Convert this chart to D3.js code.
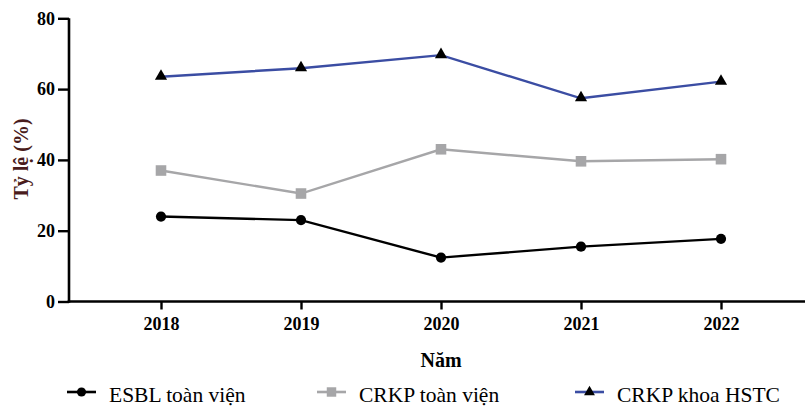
<!DOCTYPE html>
<html><head><meta charset="utf-8">
<script src="https://cdn.jsdelivr.net/npm/d3@7"></script>
<style>body{margin:0;background:#fff}svg{display:block}</style>
</head><body>
<svg id="c" width="805" height="406"></svg>
<script>
const years = ["2018","2019","2020","2021","2022"];
const esbl = [24.0, 23.0, 12.4, 15.5, 17.7];
const crkpAll = [37.0, 30.5, 43.0, 39.6, 40.2];
const crkpHstc = [63.5, 65.9, 69.6, 57.4, 62.1];
const yTicks = [0, 20, 40, 60, 80];
const seriesNames = ["ESBL toàn viện", "CRKP toàn viện", "CRKP khoa HSTC"];

const FONT = "Liberation Serif";
const svg = d3.select("#c");
const x = d3.scalePoint().domain(years).range([161, 721]);
const y = d3.scaleLinear().domain([0, 80]).range([301.5, 18.3]);

const series = [
  {name: seriesNames[0], values: esbl, color: "#000000", marker: "circle"},
  {name: seriesNames[1], values: crkpAll, color: "#a6a6a8", marker: "square"},
  {name: seriesNames[2], values: crkpHstc, color: "#3b4da3", marker: "triangle"}
];

// axes
const yAxis = svg.append("g").attr("transform", "translate(69,0)")
  .call(d3.axisLeft(y).tickValues(yTicks).tickSize(11).tickPadding(3).tickSizeOuter(0));
yAxis.select(".domain").attr("stroke-width", 2.6).attr("d", `M0,${y(0)+1.3}V${y(80)}`);
yAxis.selectAll(".tick line").attr("stroke-width", 2.4);
yAxis.selectAll("text").style("font-family", FONT).attr("font-weight", "bold").attr("font-size", 18).attr("fill", "#000");

const xAxis = svg.append("g").attr("transform", `translate(0,${y(0)})`)
  .call(d3.axisBottom(x).tickSize(8).tickPadding(8).tickSizeOuter(0));
xAxis.select(".domain").attr("stroke-width", 2.6).attr("d", "M67.7,0H805");
xAxis.selectAll(".tick line").attr("stroke-width", 2.4);
xAxis.selectAll("text").style("font-family", FONT).attr("font-weight", "bold").attr("font-size", 18).attr("fill", "#000");

// titles
svg.append("text").attr("x", 441).attr("y", 367).attr("text-anchor", "middle")
  .style("font-family", FONT).attr("font-weight", "bold").attr("font-size", 20).text("Năm");
svg.append("text").attr("transform", "translate(28,159) rotate(-90)").attr("text-anchor", "middle")
  .style("font-family", FONT).attr("font-weight", "bold").attr("font-size", 20).attr("fill", "#4a1c1c").text("Tỷ lệ (%)");

const symbolFor = m => m === "circle" ? d3.symbolCircle : m === "square" ? d3.symbolSquare : d3.symbolTriangle;
const sizeFor = m => m === "circle" ? 82 : m === "square" ? 112 : 64;

const line = d3.line().x((d, i) => x(years[i])).y(d => y(d));
series.forEach(s => {
  svg.append("path").datum(s.values).attr("d", line).attr("fill", "none")
    .attr("stroke", s.color).attr("stroke-width", 2.4);
  svg.selectAll(null).data(s.values).enter().append("path")
    .attr("transform", (d, i) => `translate(${x(years[i])},${y(d) + (s.marker === "triangle" ? -0.5 : 0)})`)
    .attr("d", d3.symbol().type(symbolFor(s.marker)).size(sizeFor(s.marker)))
    .attr("fill", s.marker === "square" ? s.color : "#000");
});

// legend
const legX = [67, 317, 575];
series.forEach((s, i) => {
  const g = svg.append("g").attr("transform", `translate(${legX[i]},392)`);
  g.append("line").attr("x1", 0).attr("x2", 29).attr("y1", 0).attr("y2", 0)
    .attr("stroke", s.color).attr("stroke-width", 2.6);
  g.append("path").attr("transform", "translate(14.5,0)")
    .attr("d", d3.symbol().type(symbolFor(s.marker)).size(sizeFor(s.marker) * 0.8))
    .attr("fill", s.marker === "square" ? s.color : "#000");
  g.append("text").attr("x", 42).attr("y", 10).style("font-family", FONT).attr("font-size", 21.5)
    .attr("fill", "#000").text(s.name);
});
</script>
</body></html>
